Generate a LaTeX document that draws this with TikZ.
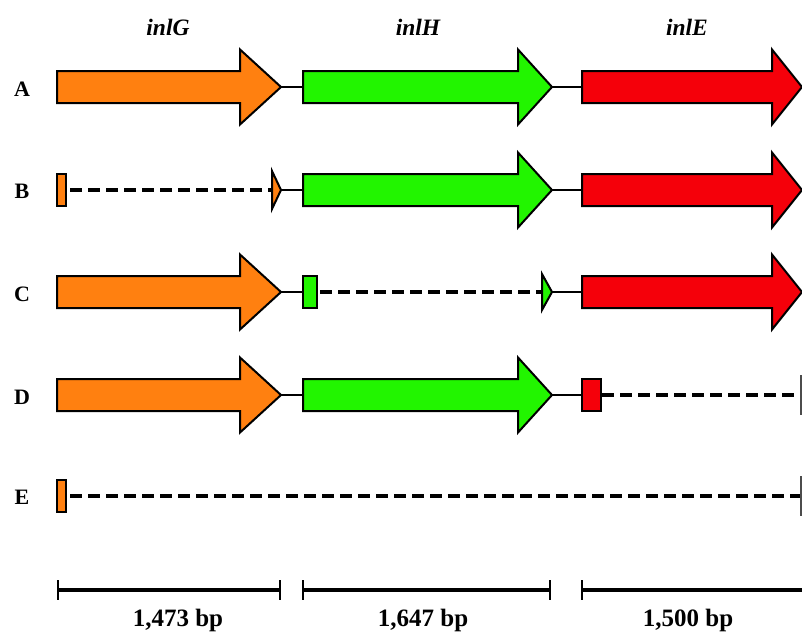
\documentclass[tikz,border=0pt]{standalone}
\usepackage{fontspec}
\setmainfont{Liberation Serif}
\definecolor{gorange}{RGB}{255,128,16}
\definecolor{ggreen}{RGB}{34,245,0}
\definecolor{gred}{RGB}{245,0,10}
\newcommand\genearrow[5]{%
  \draw[gene,fill=#5] (#1,#4-16) -- (#2,#4-16) -- (#2,#4-37.5) -- (#3,#4)
    -- (#2,#4+37.5) -- (#2,#4+16) -- (#1,#4+16) -- cycle;}
\begin{document}
\begin{tikzpicture}[x=1pt,y=-1pt,
  gene/.style={draw=black,line width=2pt,line join=miter},
  link/.style={line width=2pt},
  gapline/.style={line width=3.5pt,dash pattern=on 12pt off 6pt},
  endtick/.style={line width=1.2pt,draw=black!70},
  bar/.style={line width=3.5pt},
  bartick/.style={line width=1.6pt},
  rowlbl/.style={font=\bfseries\fontsize{22}{24}\selectfont},
  genelbl/.style={font=\bfseries\itshape\fontsize{23.5}{26}\selectfont},
  bplbl/.style={font=\bfseries\fontsize{25}{28}\selectfont}]
\useasboundingbox (0,0) rectangle (802,633);

% gene names
\node[genelbl] (nG) at (168,27) {inlG};
\node[genelbl] (nH) at (418,27) {inlH};
\node[genelbl] (nE) at (687,27) {inlE};

% row labels
\node[rowlbl] (lA) at (22,89) {A};
\node[rowlbl] (lB) at (22,191) {B};
\node[rowlbl] (lC) at (22,294) {C};
\node[rowlbl] (lD) at (22,397) {D};
\node[rowlbl] (lE) at (22,497) {E};

% ---- Row A (y=87)
\coordinate (a1) at (281,87); \coordinate (a2) at (303,87);
\coordinate (a3) at (552,87); \coordinate (a4) at (582,87);
\draw[link] (a1) -- (a2);
\draw[link] (a3) -- (a4);
\genearrow{57}{240}{281}{87}{gorange}
\genearrow{303}{518}{552}{87}{ggreen}
\genearrow{582}{772}{802}{87}{gred}

% ---- Row B (y=190)
\coordinate (b0) at (70,190); \coordinate (b1) at (272,190);
\coordinate (b2) at (281,190); \coordinate (b3) at (303,190);
\coordinate (b4) at (552,190); \coordinate (b5) at (582,190);
\draw[gapline] (b0) -- (b1);
\draw[link] (b2) -- (b3);
\draw[link] (b4) -- (b5);
\draw[gene,fill=gorange] (57,174) rectangle (66,206);
\draw[gene,fill=gorange] (272,171) -- (281,190) -- (272,209) -- cycle;
\genearrow{303}{518}{552}{190}{ggreen}
\genearrow{582}{772}{802}{190}{gred}

% ---- Row C (y=292)
\coordinate (c1) at (281,292); \coordinate (c2) at (303,292);
\coordinate (c3) at (320,292); \coordinate (c4) at (542,292);
\coordinate (c5) at (552,292); \coordinate (c6) at (582,292);
\draw[link] (c1) -- (c2);
\draw[gapline] (c3) -- (c4);
\draw[link] (c5) -- (c6);
\genearrow{57}{240}{281}{292}{gorange}
\draw[gene,fill=ggreen] (303,276) rectangle (317,308);
\draw[gene,fill=ggreen] (542,274) -- (552,292) -- (542,310) -- cycle;
\genearrow{582}{772}{802}{292}{gred}

% ---- Row D (y=395)
\coordinate (d1) at (281,395); \coordinate (d2) at (303,395);
\coordinate (d3) at (552,395); \coordinate (d4) at (582,395);
\coordinate (d5) at (602,395); \coordinate (d6) at (801,395);
\draw[link] (d1) -- (d2);
\draw[link] (d3) -- (d4);
\draw[gapline] (d5) -- (d6);
\draw[endtick] ([yshift=20pt]d6) -- ([yshift=-20pt]d6);
\genearrow{57}{240}{281}{395}{gorange}
\genearrow{303}{518}{552}{395}{ggreen}
\draw[gene,fill=gred] (582,379) rectangle (601,411);

% ---- Row E (y=496)
\coordinate (e0) at (70,496); \coordinate (e1) at (801,496);
\draw[gapline] (e0) -- (e1);
\draw[endtick] ([yshift=20pt]e1) -- ([yshift=-20pt]e1);
\draw[gene,fill=gorange] (57,480) rectangle (66,512);

% ---- scale bars (y=590)
\coordinate (s1) at (58,590); \coordinate (s2) at (280,590);
\coordinate (s3) at (303,590); \coordinate (s4) at (550,590);
\coordinate (s5) at (582,590); \coordinate (s6) at (802,590);
\draw[bar] (s1) -- (s2);
\draw[bar] (s3) -- (s4);
\draw[bar] (s5) -- (s6);
\foreach \p in {s1,s2,s3,s4,s5}
  \draw[bartick] ([yshift=10pt]\p) -- ([yshift=-10pt]\p);
\node[bplbl] (bp1) at (178,620) {1,473 bp};
\node[bplbl] (bp2) at (423,620) {1,647 bp};
\node[bplbl] (bp3) at (688,620) {1,500 bp};
\end{tikzpicture}
\end{document}
